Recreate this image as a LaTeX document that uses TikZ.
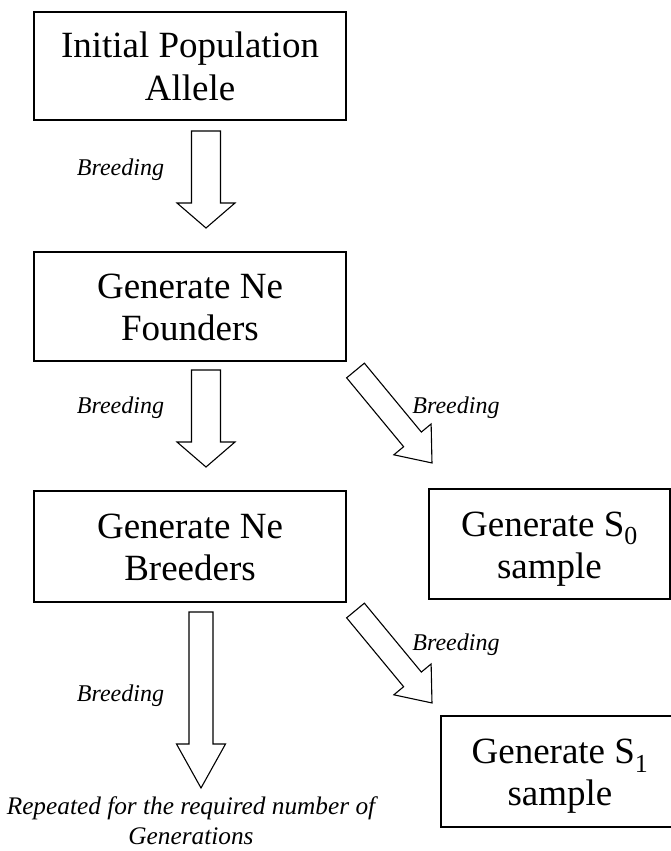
\documentclass[tikz,border=0pt]{standalone}
\usepackage{fontspec}
\setmainfont{Liberation Serif}
\newcommand{\blockarrow}[6]{% #1 tail, #2 angle, #3 length, #4 shaft half width, #5 head half width, #6 head length
  \draw[barrow, shift={#1}, rotate=#2] (0,-#4) -- ({#3-#6},-#4) -- ({#3-#6},-#5) -- (#3,0) -- ({#3-#6},#5) -- ({#3-#6},#4) -- (0,#4) -- cycle;}
\begin{document}
\begin{tikzpicture}[x=1pt,y=-1pt,
  box/.style={draw=black, line width=1.3pt, inner sep=0pt, outer sep=0pt},
  boxtext/.style={font=\fontsize{37}{42}\selectfont, anchor=base, inner sep=0pt},
  lbl/.style={font=\fontsize{24}{28}\selectfont\itshape, anchor=base, inner sep=0pt},
  note/.style={font=\fontsize{25.3}{30}\selectfont\itshape, anchor=base, inner sep=0pt},
  barrow/.style={draw=black, line width=1.1pt, fill=white, line join=miter}]
\useasboundingbox (0,0) rectangle (671,851);
\clip (0,0) rectangle (671,851);
\fill[white] (0,0) rectangle (671,851);

% boxes
\node[box, minimum width=312pt, minimum height=108pt] (b1) at (190,66) {};
\node[boxtext] (b1a) at ([yshift=8pt]b1.center) {Initial Population};
\node[boxtext] (b1b) at ([yshift=-34pt]b1.center) {Allele};

\node[box, minimum width=312pt, minimum height=109pt] (b2) at (190,306.5) {};
\node[boxtext] (b2a) at ([yshift=8pt]b2.center) {Generate Ne};
\node[boxtext] (b2b) at ([yshift=-34pt]b2.center) {Founders};

\node[box, minimum width=312pt, minimum height=111pt] (b3) at (190,546.5) {};
\node[boxtext] (b3a) at ([yshift=8pt]b3.center) {Generate Ne};
\node[boxtext] (b3b) at ([yshift=-34pt]b3.center) {Breeders};

\node[box, minimum width=241pt, minimum height=110pt] (s0) at (549.5,544) {};
\node[boxtext] (s0a) at ([yshift=8pt]s0.center) {Generate S\textsubscript{0}};
\node[boxtext] (s0b) at ([yshift=-34pt]s0.center) {sample};

\node[box, minimum width=238pt, minimum height=111pt] (s1) at (560,771.5) {};
\node[boxtext] (s1a) at ([yshift=8pt]s1.center) {Generate S\textsubscript{1}};
\node[boxtext] (s1b) at ([yshift=-34pt]s1.center) {sample};

% block arrows
\coordinate (a1) at (206,131);
\coordinate (a2) at (206,370);
\coordinate (a3) at (201,612);
\coordinate (d1) at (355.5,370.5);
\coordinate (d2) at (355.5,610.5);
\blockarrow{(a1)}{-90}{97}{14.5}{29}{25}
\blockarrow{(a2)}{-90}{97}{14.5}{29}{25}
\blockarrow{(a3)}{-90}{176}{12}{24.5}{44}
\blockarrow{(d1)}{-50.4}{120}{11.5}{24.2}{30.6}
\blockarrow{(d2)}{-50.4}{120}{11.5}{24.2}{30.6}

% labels
\node[lbl] (l1) at (120.5,175) {Breeding};
\node[lbl] (l2) at (120.5,413) {Breeding};
\node[lbl] (l3) at (120.5,701) {Breeding};
\node[lbl] (r1) at (456,413) {Breeding};
\node[lbl] (r2) at (456,650) {Breeding};

\node[note] (n1) at (191,814) {Repeated for the required number of};
\node[note] (n2) at (191,844) {Generations};
\end{tikzpicture}
\end{document}
